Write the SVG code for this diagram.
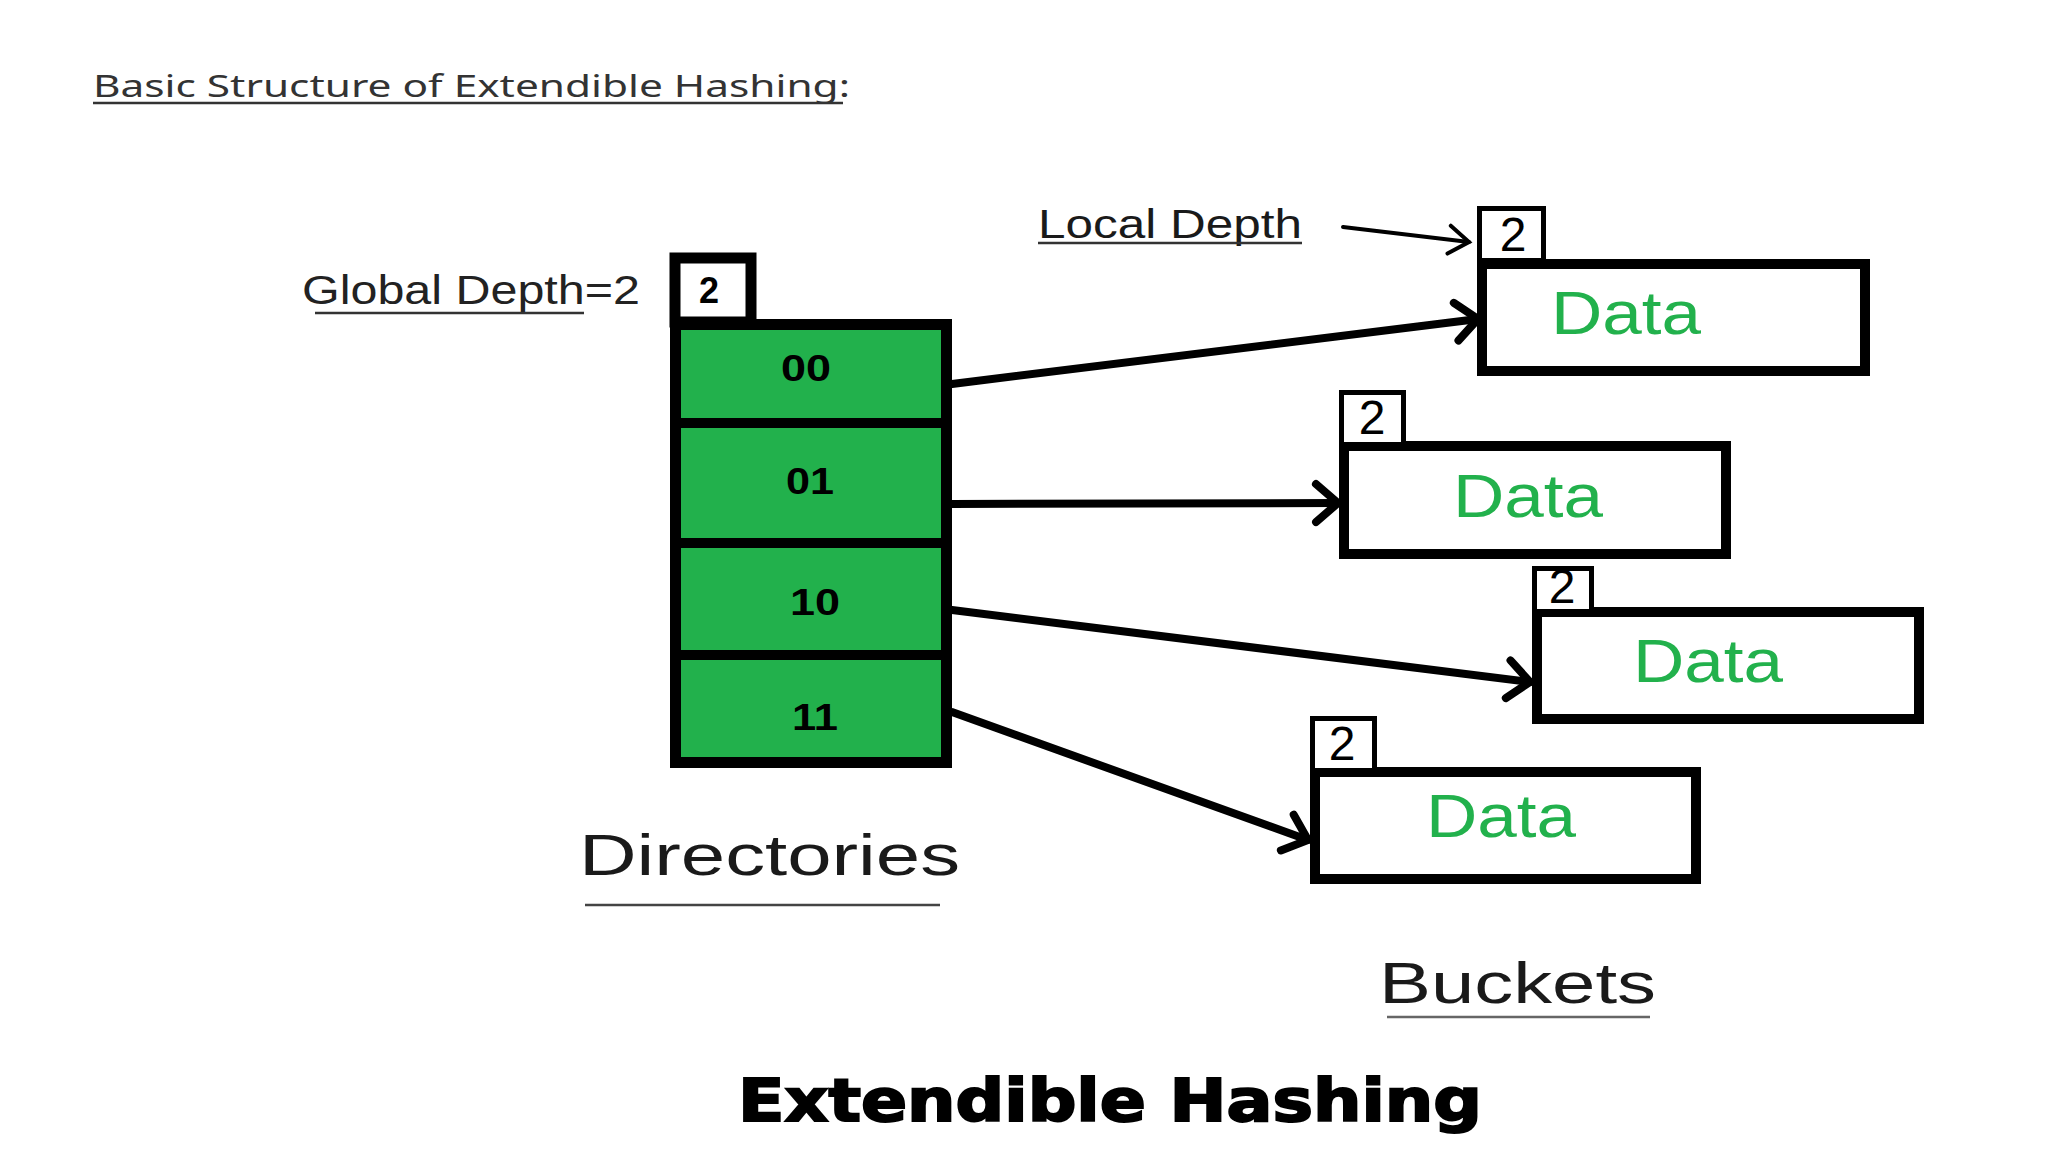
<svg xmlns="http://www.w3.org/2000/svg" width="2048" height="1152" viewBox="0 0 2048 1152">
<style>
.t{font-family:"Liberation Sans","DejaVu Sans",sans-serif;fill:#1a1a1a}
.ul{stroke:#333;stroke-width:2.5}
.dir{fill:#22b14c;stroke:#000;stroke-width:11}
.sep{stroke:#000;stroke-width:10}
.bk{fill:#fff;stroke:#000;stroke-width:10}
.ld{fill:#fff;stroke:#000;stroke-width:5}
.dg{font-family:"Liberation Sans",sans-serif;font-size:48px;fill:#000;text-anchor:middle}
.data{font-family:"Liberation Sans",sans-serif;font-size:62px;fill:#22b14c;text-anchor:middle}
.code{font-family:"Liberation Sans",sans-serif;font-size:36px;font-weight:bold;fill:#000;text-anchor:middle}
.arr{stroke:#000;stroke-width:8;fill:none;stroke-linecap:round;marker-end:url(#ah)}
</style>
<defs>
<marker id="ah" viewBox="-30 -25 36 50" refX="0" refY="0" markerWidth="36" markerHeight="50" markerUnits="userSpaceOnUse" orient="auto">
<path d="M-22,-19 L0,0 L-22,19" fill="none" stroke="#000" stroke-width="8" stroke-linecap="round" stroke-linejoin="miter"/>
</marker>
<marker id="ah2" viewBox="-30 -20 36 40" refX="0" refY="0" markerWidth="36" markerHeight="40" markerUnits="userSpaceOnUse" orient="auto">
<path d="M-20,-14 L0,0 L-20,14" fill="none" stroke="#000" stroke-width="4" stroke-linecap="round"/>
</marker>
</defs>
<rect width="2048" height="1152" fill="#fff"/>

<g id="title">
<text x="93" y="97" font-family="Noto Sans,Open Sans,Liberation Sans,sans-serif" font-size="30" fill="#333" textLength="757" lengthAdjust="spacingAndGlyphs">Basic Structure of Extendible Hashing:</text>
<line class="ul" x1="93" y1="103" x2="843" y2="103" stroke-width="3"/>
</g>

<g id="global-depth-label">
<text class="t" x="302" y="304" font-size="40" textLength="338" lengthAdjust="spacingAndGlyphs" style="fill:#222">Global Depth=2</text>
<line class="ul" x1="315" y1="313" x2="584" y2="313"/>
</g>

<g id="global-depth-box">
<rect x="675" y="258" width="76" height="64" fill="#fff" stroke="#000" stroke-width="11"/>
<text x="709" y="303" font-family="Liberation Sans,sans-serif" font-size="36" font-weight="bold" text-anchor="middle">2</text>
</g>

<g id="directory">
<rect class="dir" x="675.5" y="324.5" width="271" height="438"/>
<line class="sep" x1="675" y1="423" x2="947" y2="423"/>
<line class="sep" x1="675" y1="543" x2="947" y2="543"/>
<line class="sep" x1="675" y1="655" x2="947" y2="655"/>
<text class="code" x="806" y="381" textLength="50" lengthAdjust="spacingAndGlyphs">00</text>
<text class="code" x="810" y="494" textLength="48" lengthAdjust="spacingAndGlyphs">01</text>
<text class="code" x="815" y="615" textLength="50" lengthAdjust="spacingAndGlyphs">10</text>
<text class="code" x="815" y="730" textLength="46" lengthAdjust="spacingAndGlyphs">11</text>
</g>

<g id="local-depth-label">
<text class="t" x="1038" y="238" font-size="40" textLength="264" lengthAdjust="spacingAndGlyphs">Local Depth</text>
<line class="ul" x1="1038" y1="243" x2="1302" y2="243" stroke="#111" stroke-width="3"/>
</g>

<g id="bucket1">
<rect class="bk" x="1482" y="264" width="383" height="107"/>
<rect class="ld" x="1479.5" y="208.5" width="64" height="52"/>
<text class="dg" x="1513" y="251">2</text>
<text class="data" x="1626" y="334" textLength="150" lengthAdjust="spacingAndGlyphs">Data</text>
</g>

<g id="bucket2">
<rect class="bk" x="1344" y="446" width="382" height="108"/>
<rect class="ld" x="1341.5" y="392.5" width="62" height="52"/>
<text class="dg" x="1372" y="434">2</text>
<text class="data" x="1528" y="517" textLength="150" lengthAdjust="spacingAndGlyphs">Data</text>
</g>

<g id="bucket3">
<rect class="bk" x="1537" y="612" width="382" height="107"/>
<rect class="ld" x="1534.5" y="568.5" width="57" height="43"/>
<text class="dg" x="1562" y="603" font-size="42">2</text>
<text class="data" x="1708" y="682" textLength="150" lengthAdjust="spacingAndGlyphs">Data</text>
</g>

<g id="bucket4">
<rect class="bk" x="1315" y="772" width="381" height="107"/>
<rect class="ld" x="1312.5" y="718.5" width="62" height="52"/>
<text class="dg" x="1342" y="760">2</text>
<text class="data" x="1501" y="837" textLength="150" lengthAdjust="spacingAndGlyphs">Data</text>
</g>

<g id="connectors">
<line class="arr" x1="952" y1="384" x2="1478" y2="319"/>
<line class="arr" x1="952" y1="504" x2="1338" y2="503"/>
<line class="arr" x1="952" y1="610" x2="1530" y2="682"/>
<line class="arr" x1="952" y1="712" x2="1308" y2="840"/>
<line x1="1343" y1="227" x2="1469" y2="242" stroke="#000" stroke-width="4" stroke-linecap="round" marker-end="url(#ah2)"/>
</g>

<g id="directories-label">
<text class="t" x="579" y="875" font-size="58" textLength="381" lengthAdjust="spacingAndGlyphs">Directories</text>
<line x1="585" y1="905" x2="940" y2="905" stroke="#444" stroke-width="2.5"/>
</g>

<g id="buckets-label">
<text class="t" x="1379" y="1003" font-size="58" textLength="277" lengthAdjust="spacingAndGlyphs">Buckets</text>
<line x1="1387" y1="1017" x2="1650" y2="1017" stroke="#666" stroke-width="2.5"/>
</g>

<g id="caption">
<text x="738" y="1121" font-family="DejaVu Sans,Liberation Sans,sans-serif" font-size="58" font-weight="900" fill="#000" stroke="#000" stroke-width="2" textLength="744" lengthAdjust="spacingAndGlyphs">Extendible Hashing</text>
</g>
</svg>
